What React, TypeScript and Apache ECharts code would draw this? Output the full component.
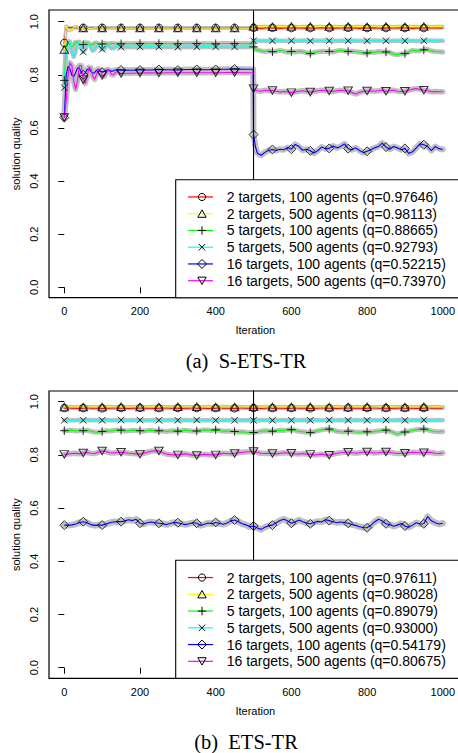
import React, { useEffect, useRef } from "react";
import * as echarts from "echarts";

const range = (a: number, b: number, s: number) => {
  const r: number[] = [];
  for (let v = a; v <= b + 1e-9; v += s) r.push(v);
  return r;
};

// ---------- (a) S-ETS-TR ----------
const ITER_A = [...range(0, 150, 5), ...range(175, 475, 25), 499, 500, 505, ...range(510, 1000, 10)];

const RED_A = [
  0.920, 0.978, 0.978, 0.977, 0.977, 0.977, 0.978, 0.977, 0.977, 0.977,
  0.977, 0.977, 0.977, 0.977, 0.977, 0.977, 0.977, 0.977, 0.977, 0.977,
  0.977, 0.977, 0.977, 0.977, 0.977, 0.977, 0.977, 0.977, 0.977, 0.977, 0.977,
  0.977, 0.977, 0.977, 0.977, 0.977, 0.977, 0.977, 0.977, 0.977, 0.977, 0.977, 0.977, 0.977,
  0.977, 0.977, 0.976,
  0.976, 0.975, 0.976, 0.976, 0.977, 0.976, 0.975, 0.976, 0.976, 0.976,
  0.977, 0.976, 0.976, 0.975, 0.976, 0.976, 0.976, 0.977, 0.976, 0.976,
  0.975, 0.976, 0.976, 0.976, 0.977, 0.976, 0.976, 0.975, 0.976, 0.976,
  0.976, 0.977, 0.976, 0.975, 0.976, 0.976, 0.976, 0.976, 0.977, 0.976,
  0.976, 0.975, 0.976, 0.976, 0.976, 0.977, 0.976, 0.976, 0.976, 0.976,
];
const YELLOW_A = [
  0.895, 0.984, 0.972, 0.967, 0.970, 0.978, 0.981, 0.979, 0.975, 0.974,
  0.976, 0.978, 0.978, 0.976, 0.975, 0.976, 0.977, 0.977, 0.976, 0.975,
  0.976, 0.977, 0.976, 0.976, 0.976, 0.976, 0.977, 0.976, 0.976, 0.976, 0.976,
  0.976, 0.976, 0.976, 0.976, 0.976, 0.976, 0.976, 0.976, 0.976, 0.976, 0.976, 0.976, 0.976,
  0.976, 0.982, 0.982,
  0.982, 0.981, 0.982, 0.982, 0.981, 0.982, 0.982, 0.982, 0.981, 0.982,
  0.982, 0.981, 0.982, 0.982, 0.982, 0.981, 0.982, 0.982, 0.981, 0.982,
  0.982, 0.982, 0.981, 0.982, 0.982, 0.981, 0.982, 0.982, 0.982, 0.981,
  0.982, 0.982, 0.981, 0.982, 0.982, 0.982, 0.981, 0.982, 0.982, 0.981,
  0.982, 0.982, 0.982, 0.981, 0.982, 0.982, 0.981, 0.982, 0.982, 0.982,
];
const GREEN_A = [
  0.779, 0.915, 0.923, 0.912, 0.905, 0.912, 0.923, 0.923, 0.915, 0.910,
  0.914, 0.921, 0.921, 0.916, 0.912, 0.914, 0.919, 0.920, 0.916, 0.914,
  0.916, 0.919, 0.918, 0.916, 0.916, 0.918, 0.918, 0.917, 0.916, 0.917, 0.917,
  0.917, 0.918, 0.917, 0.918, 0.917, 0.917, 0.918, 0.918, 0.917, 0.917, 0.918, 0.918, 0.917,
  0.917, 0.905, 0.897,
  0.893, 0.890, 0.888, 0.890, 0.887, 0.889, 0.892, 0.889, 0.885, 0.888,
  0.886, 0.889, 0.887, 0.883, 0.880, 0.884, 0.887, 0.889, 0.888, 0.888,
  0.886, 0.890, 0.892, 0.890, 0.888, 0.889, 0.887, 0.885, 0.883, 0.882,
  0.886, 0.884, 0.888, 0.886, 0.886, 0.884, 0.878, 0.875, 0.879, 0.880,
  0.886, 0.892, 0.890, 0.891, 0.894, 0.895, 0.890, 0.888, 0.887, 0.886,
];
const CYAN_A = [
  0.752, 0.880, 0.925, 0.925, 0.885, 0.868, 0.890, 0.918, 0.924, 0.900,
  0.886, 0.895, 0.915, 0.920, 0.905, 0.891, 0.895, 0.908, 0.914, 0.906,
  0.896, 0.897, 0.906, 0.910, 0.906, 0.900, 0.900, 0.905, 0.907, 0.905, 0.904,
  0.905, 0.905, 0.906, 0.905, 0.905, 0.904, 0.905, 0.905, 0.906, 0.905, 0.905, 0.905, 0.905,
  0.905, 0.928, 0.928,
  0.928, 0.928, 0.927, 0.928, 0.928, 0.929, 0.928, 0.928, 0.927, 0.928,
  0.928, 0.928, 0.929, 0.928, 0.927, 0.928, 0.928, 0.928, 0.929, 0.928,
  0.928, 0.927, 0.928, 0.928, 0.928, 0.929, 0.928, 0.928, 0.927, 0.928,
  0.928, 0.929, 0.928, 0.928, 0.928, 0.927, 0.928, 0.928, 0.929, 0.928,
  0.928, 0.928, 0.927, 0.928, 0.928, 0.928, 0.929, 0.928, 0.928, 0.928,
];
const BLUE_A = [
  0.639, 0.800, 0.832, 0.822, 0.798, 0.794, 0.808, 0.826, 0.825, 0.808,
  0.800, 0.806, 0.820, 0.822, 0.814, 0.806, 0.808, 0.817, 0.820, 0.815,
  0.810, 0.812, 0.817, 0.819, 0.816, 0.813, 0.815, 0.818, 0.818, 0.817, 0.818,
  0.817, 0.818, 0.818, 0.820, 0.819, 0.818, 0.820, 0.820, 0.819, 0.820, 0.821, 0.822, 0.821,
  0.821, 0.575, 0.530,
  0.505, 0.497, 0.508, 0.516, 0.519, 0.515, 0.520, 0.518, 0.526, 0.520,
  0.538, 0.530, 0.516, 0.520, 0.514, 0.505, 0.515, 0.528, 0.522, 0.523,
  0.532, 0.525, 0.530, 0.540, 0.522, 0.518, 0.525, 0.515, 0.507, 0.512,
  0.518, 0.525, 0.530, 0.543, 0.528, 0.520, 0.530, 0.525, 0.518, 0.523,
  0.504, 0.510, 0.525, 0.540, 0.537, 0.530, 0.515, 0.530, 0.522, 0.519,
];
const MAGENTA_A = [
  0.639, 0.700, 0.800, 0.845, 0.835, 0.775, 0.745, 0.780, 0.835, 0.835,
  0.782, 0.768, 0.790, 0.828, 0.826, 0.795, 0.783, 0.800, 0.822, 0.818,
  0.798, 0.794, 0.806, 0.817, 0.813, 0.801, 0.800, 0.808, 0.812, 0.808, 0.805,
  0.806, 0.807, 0.808, 0.807, 0.808, 0.808, 0.808, 0.808, 0.808, 0.808, 0.809, 0.809, 0.808,
  0.808, 0.748, 0.742,
  0.740, 0.738, 0.742, 0.740, 0.741, 0.738, 0.735, 0.737, 0.736, 0.733,
  0.735, 0.738, 0.740, 0.737, 0.735, 0.737, 0.740, 0.742, 0.740, 0.739,
  0.737, 0.740, 0.742, 0.740, 0.740, 0.733, 0.728, 0.734, 0.738, 0.739,
  0.740, 0.738, 0.740, 0.742, 0.738, 0.740, 0.742, 0.738, 0.737, 0.738,
  0.742, 0.746, 0.748, 0.745, 0.742, 0.740, 0.736, 0.737, 0.736, 0.736,
];
const Q_A = ["0.97646", "0.98113", "0.88665", "0.92793", "0.52215", "0.73970"];

// ---------- (b) ETS-TR ----------
const ITER_B = range(0, 1000, 10);

const RED_B = [
  0.976, 0.977, 0.976, 0.976, 0.975, 0.976, 0.977, 0.976, 0.976, 0.976,
  0.975, 0.976, 0.976, 0.977, 0.976, 0.976, 0.976, 0.975, 0.976, 0.976,
  0.977, 0.976, 0.976, 0.976, 0.975, 0.976, 0.976, 0.977, 0.976, 0.976,
  0.976, 0.975, 0.976, 0.976, 0.977, 0.976, 0.976, 0.976, 0.975, 0.976,
  0.976, 0.977, 0.976, 0.976, 0.976, 0.975, 0.976, 0.977, 0.976, 0.976,
  0.976, 0.976, 0.975, 0.976, 0.977, 0.976, 0.976, 0.976, 0.976, 0.975,
  0.976, 0.977, 0.976, 0.976, 0.976, 0.975, 0.976, 0.976, 0.977, 0.976,
  0.976, 0.976, 0.975, 0.976, 0.976, 0.977, 0.976, 0.976, 0.976, 0.975,
  0.976, 0.976, 0.977, 0.976, 0.976, 0.976, 0.975, 0.976, 0.976, 0.977,
  0.976, 0.976, 0.976, 0.975, 0.976, 0.976, 0.977, 0.976, 0.976, 0.976,
  0.976,
];
const YELLOW_B = [
  0.980, 0.981, 0.980, 0.980, 0.981, 0.980, 0.980, 0.980, 0.981, 0.980,
  0.980, 0.980, 0.981, 0.980, 0.980, 0.981, 0.980, 0.980, 0.980, 0.981,
  0.980, 0.980, 0.980, 0.981, 0.980, 0.980, 0.981, 0.980, 0.980, 0.980,
  0.981, 0.980, 0.980, 0.980, 0.980, 0.981, 0.980, 0.980, 0.981, 0.980,
  0.980, 0.980, 0.981, 0.980, 0.980, 0.980, 0.981, 0.980, 0.980, 0.980,
  0.981, 0.980, 0.980, 0.981, 0.980, 0.980, 0.980, 0.980, 0.981, 0.980,
  0.980, 0.981, 0.980, 0.980, 0.980, 0.981, 0.980, 0.980, 0.980, 0.981,
  0.980, 0.980, 0.981, 0.980, 0.980, 0.980, 0.980, 0.981, 0.980, 0.980,
  0.981, 0.980, 0.980, 0.980, 0.981, 0.980, 0.980, 0.981, 0.980, 0.980,
  0.980, 0.981, 0.980, 0.980, 0.980, 0.981, 0.980, 0.980, 0.981, 0.980,
  0.980,
];
const GREEN_B = [
  0.891, 0.892, 0.893, 0.890, 0.892, 0.891, 0.893, 0.889, 0.886, 0.885,
  0.888, 0.891, 0.890, 0.892, 0.894, 0.893, 0.890, 0.891, 0.893, 0.892,
  0.891, 0.889, 0.892, 0.893, 0.890, 0.891, 0.890, 0.888, 0.890, 0.891,
  0.889, 0.891, 0.893, 0.891, 0.889, 0.890, 0.892, 0.894, 0.893, 0.892,
  0.894, 0.892, 0.889, 0.890, 0.889, 0.888, 0.886, 0.887, 0.885, 0.884,
  0.884, 0.886, 0.889, 0.891, 0.890, 0.889, 0.891, 0.893, 0.892, 0.894,
  0.895, 0.892, 0.889, 0.887, 0.885, 0.884, 0.887, 0.891, 0.894, 0.896,
  0.897, 0.893, 0.889, 0.887, 0.886, 0.889, 0.888, 0.886, 0.885, 0.886,
  0.887, 0.886, 0.888, 0.890, 0.892, 0.893, 0.889, 0.884, 0.878, 0.883,
  0.886, 0.889, 0.892, 0.895, 0.896, 0.897, 0.894, 0.890, 0.888, 0.887,
  0.888,
];
const CYAN_B = [
  0.930, 0.931, 0.930, 0.930, 0.931, 0.930, 0.930, 0.931, 0.930, 0.930,
  0.930, 0.931, 0.930, 0.930, 0.930, 0.931, 0.930, 0.930, 0.931, 0.930,
  0.931, 0.930, 0.930, 0.930, 0.931, 0.930, 0.930, 0.930, 0.931, 0.930,
  0.930, 0.930, 0.931, 0.930, 0.930, 0.931, 0.930, 0.930, 0.930, 0.931,
  0.930, 0.931, 0.930, 0.930, 0.930, 0.930, 0.931, 0.930, 0.930, 0.931,
  0.930, 0.930, 0.931, 0.930, 0.930, 0.930, 0.931, 0.930, 0.931, 0.930,
  0.930, 0.930, 0.930, 0.931, 0.930, 0.930, 0.931, 0.930, 0.930, 0.930,
  0.931, 0.930, 0.930, 0.931, 0.930, 0.930, 0.930, 0.931, 0.930, 0.930,
  0.930, 0.931, 0.930, 0.930, 0.930, 0.931, 0.930, 0.930, 0.931, 0.930,
  0.930, 0.930, 0.931, 0.930, 0.930, 0.931, 0.930, 0.930, 0.930, 0.931,
  0.930,
];
const BLUE_B = [
  0.536, 0.535, 0.537, 0.540, 0.546, 0.549, 0.545, 0.538, 0.535, 0.536,
  0.536, 0.540, 0.545, 0.548, 0.549, 0.549, 0.552, 0.556, 0.553, 0.558,
  0.543, 0.540, 0.546, 0.548, 0.545, 0.543, 0.541, 0.538, 0.542, 0.546,
  0.545, 0.541, 0.538, 0.541, 0.545, 0.543, 0.535, 0.539, 0.544, 0.541,
  0.546, 0.542, 0.539, 0.544, 0.552, 0.555, 0.549, 0.541, 0.537, 0.530,
  0.533, 0.525, 0.520, 0.528, 0.534, 0.536, 0.545, 0.553, 0.558, 0.552,
  0.543, 0.548, 0.555, 0.549, 0.544, 0.541, 0.546, 0.550, 0.548, 0.556,
  0.553, 0.549, 0.545, 0.548, 0.546, 0.543, 0.538, 0.535, 0.530, 0.527,
  0.526, 0.535, 0.548, 0.558, 0.552, 0.541, 0.538, 0.532, 0.536, 0.542,
  0.533, 0.528, 0.536, 0.545, 0.540, 0.541, 0.568, 0.552, 0.545, 0.540,
  0.543,
];
const MAGENTA_B = [
  0.802, 0.803, 0.805, 0.806, 0.804, 0.807, 0.809, 0.806, 0.805, 0.810,
  0.815, 0.812, 0.808, 0.807, 0.809, 0.810, 0.808, 0.806, 0.805, 0.804,
  0.803, 0.806, 0.810, 0.814, 0.815, 0.815, 0.808, 0.803, 0.801, 0.800,
  0.800, 0.802, 0.804, 0.801, 0.799, 0.798, 0.800, 0.802, 0.801, 0.800,
  0.800, 0.803, 0.806, 0.805, 0.804, 0.805, 0.808, 0.810, 0.811, 0.812,
  0.813, 0.810, 0.806, 0.805, 0.806, 0.805, 0.804, 0.806, 0.808, 0.807,
  0.806, 0.804, 0.803, 0.805, 0.803, 0.802, 0.800, 0.801, 0.803, 0.800,
  0.799, 0.802, 0.806, 0.808, 0.810, 0.810, 0.808, 0.806, 0.808, 0.810,
  0.811, 0.809, 0.807, 0.808, 0.810, 0.811, 0.810, 0.807, 0.805, 0.806,
  0.806, 0.808, 0.810, 0.809, 0.808, 0.808, 0.810, 0.809, 0.806, 0.805,
  0.807,
];
const Q_B = ["0.97611", "0.98028", "0.89079", "0.93000", "0.54179", "0.80675"];

const NAMES = [
  "2 targets, 100 agents",
  "2 targets, 500 agents",
  "5 targets, 100 agents",
  "5 targets, 500 agents",
  "16 targets, 100 agents",
  "16 targets, 500 agents",
];
const X_TICKS = { min: 0, max: 1000, interval: 200 };
const Y_TICKS = { min: 0, max: 1, interval: 0.2 };
const SWITCH_ITER = 500;
const MARKER_EVERY = 50;
const Y_BOX = [-0.04, 1.042];

// ---------- styles ----------
const COLORS = ["#ff0000", "#ffff00", "#00ff00", "#00ffff", "#0000ff", "#ff00ff"];
const BAND = "#c0c0c0";
const BAND_W_A = [3.5, 3.5, 5, 4.5, 6, 5.5];
const BAND_W_B = [4, 4, 5, 4.5, 6.5, 5.5];
const SYMBOLS = [
  "circle",
  "triangle",
  "path://M5,0L5,10M0,5L10,5",
  "path://M0,0L10,10M10,0L0,10",
  "diamond",
  "path://M0,0L10,0L5,8.66Z",
];
const SYM_SIZE: any[] = [7.5, [8.5, 7.5], 8.5, 6.5, 9, [8.5, 7.5]];
const SANS = '"Liberation Sans", Arial, Helvetica, sans-serif';
const SERIF = '"Liberation Serif", "Times New Roman", serif';

const PANELS = [
  { iters: ITER_A, vals: [RED_A, YELLOW_A, GREEN_A, CYAN_A, BLUE_A, MAGENTA_A], q: Q_A, bw: BAND_W_A,
    gridTop: 21.7, gridH: 265.6, boxTop: 10, boxBottom: 297.7, caption: "(a)  S-ETS-TR", capY: 361 },
  { iters: ITER_B, vals: [RED_B, YELLOW_B, GREEN_B, CYAN_B, BLUE_B, MAGENTA_B], q: Q_B, bw: BAND_W_B,
    gridTop: 401.7, gridH: 266, boxTop: 391, boxBottom: 678.3, caption: "(b)  ETS-TR", capY: 741.5 },
];

const GRID_LEFT = 64.3;
const GRID_W = 382.4;
const BOX_LEFT = 49;

function legendMarker(k: number, cx: number, cy: number): any {
  const st = { fill: "none", stroke: "#000", lineWidth: 1 };
  switch (k) {
    case 0:
      return { type: "circle", shape: { cx, cy, r: 3.6 }, style: st, z: 102 };
    case 1:
      return { type: "polygon", shape: { points: [[cx - 4.2, cy + 3.6], [cx + 4.2, cy + 3.6], [cx, cy - 3.8]] }, style: st, z: 102 };
    case 2:
      return { type: "group", children: [
        { type: "line", shape: { x1: cx - 4.2, y1: cy, x2: cx + 4.2, y2: cy }, style: st, z: 102 },
        { type: "line", shape: { x1: cx, y1: cy - 4.2, x2: cx, y2: cy + 4.2 }, style: st, z: 102 },
      ] };
    case 3:
      return { type: "group", children: [
        { type: "line", shape: { x1: cx - 3.2, y1: cy - 3.2, x2: cx + 3.2, y2: cy + 3.2 }, style: st, z: 102 },
        { type: "line", shape: { x1: cx - 3.2, y1: cy + 3.2, x2: cx + 3.2, y2: cy - 3.2 }, style: st, z: 102 },
      ] };
    case 4:
      return { type: "polygon", shape: { points: [[cx, cy - 4.5], [cx + 4.5, cy], [cx, cy + 4.5], [cx - 4.5, cy]] }, style: st, z: 102 };
    default:
      return { type: "polygon", shape: { points: [[cx - 4.2, cy - 3.6], [cx + 4.2, cy - 3.6], [cx, cy + 3.8]] }, style: st, z: 102 };
  }
}

export default function App() {
  const ref = useRef<HTMLDivElement>(null);
  useEffect(() => {
    if (!ref.current) return;
    const chart = echarts.init(ref.current, undefined, { renderer: "svg" });
    const grids: any[] = [];
    const xAxes: any[] = [];
    const yAxes: any[] = [];
    const series: any[] = [];
    const graphic: any[] = [];

    PANELS.forEach((p, pi) => {
      grids.push({ left: GRID_LEFT, top: p.gridTop, width: GRID_W, height: p.gridH, containLabel: false });
      xAxes.push({
        type: "value", gridIndex: pi, ...X_TICKS,
        offset: p.boxBottom - (p.gridTop + p.gridH),
        axisLine: { show: false },
        axisTick: { show: true, length: 6, lineStyle: { color: "#000", width: 1 } },
        axisLabel: { color: "#000", fontSize: 11, fontFamily: SANS, margin: 8, showMaxLabel: true,
          formatter: (v: number) => String(v) },
        splitLine: { show: false },
      });
      yAxes.push({
        type: "value", gridIndex: pi, ...Y_TICKS,
        offset: GRID_LEFT - BOX_LEFT,
        axisLine: { show: false },
        axisTick: { show: true, length: 6, lineStyle: { color: "#000", width: 1 } },
        axisLabel: { color: "#000", fontSize: 11, fontFamily: SANS, rotate: 90, margin: 10, formatter: (v: number) => v.toFixed(1) },
        splitLine: { show: false },
      });
      // grey bands
      p.vals.forEach((vals, k) => {
        series.push({
          type: "line", xAxisIndex: pi, yAxisIndex: pi, silent: true, symbol: "none", showSymbol: false,
          data: p.iters.map((it, i) => [it, vals[i]]),
          lineStyle: { color: BAND, width: p.bw[k], cap: "round", join: "round" }, z: 2,
        });
      });
      // coloured lines
      p.vals.forEach((vals, k) => {
        series.push({
          type: "line", xAxisIndex: pi, yAxisIndex: pi, silent: true, symbol: "none", showSymbol: false,
          name: NAMES[k],
          data: p.iters.map((it, i) => [it, vals[i]]),
          lineStyle: { color: COLORS[k], width: 1.1 }, z: 3,
        });
      });
      // markers
      p.vals.forEach((vals, k) => {
        const pts: number[][] = [];
        p.iters.forEach((it, i) => {
          if (it % MARKER_EVERY === 0 && it < X_TICKS.max) pts.push([it, vals[i]]);
        });
        series.push({
          type: "scatter", xAxisIndex: pi, yAxisIndex: pi, silent: true,
          symbol: SYMBOLS[k], symbolSize: SYM_SIZE[k],
          data: pts,
          itemStyle: { color: "rgba(0,0,0,0)", borderColor: "#000", borderWidth: 1 }, z: 4,
        });
      });
      // vertical line at the switch iteration
      series.push({
        type: "line", xAxisIndex: pi, yAxisIndex: pi, silent: true, symbol: "none", showSymbol: false, clip: false,
        data: [[SWITCH_ITER, Y_BOX[0]], [SWITCH_ITER, Y_BOX[1]]],
        lineStyle: { color: "#000", width: 1.1 }, z: 5,
      });

      // plot box
      graphic.push({
        type: "rect", z: 50, silent: true,
        shape: { x: BOX_LEFT, y: p.boxTop, width: 430, height: p.boxBottom - p.boxTop },
        style: { fill: "none", stroke: "#000", lineWidth: 1.2 },
      });
      // legend
      const lgTop = p.boxBottom - 118;
      const lgChildren: any[] = [
        { type: "rect", z: 100, shape: { x: 175.7, y: lgTop, width: 300, height: 118 },
          style: { fill: "#fff", stroke: "#000", lineWidth: 1.1 } },
      ];
      NAMES.forEach((nm, k) => {
        const cy = p.boxBottom - 17 - (5 - k) * 16.75;
        lgChildren.push({ type: "line", z: 101, shape: { x1: 188, y1: cy, x2: 213, y2: cy },
          style: { stroke: COLORS[k], lineWidth: 1.2 } });
        lgChildren.push(legendMarker(k, 202, cy));
        lgChildren.push({ type: "text", z: 101, x: 226.7, y: cy,
          style: { text: `${nm} (q=${p.q[k]})`, fill: "#000", fontSize: 14, fontFamily: SANS, align: "left", verticalAlign: "middle" } });
      });
      graphic.push({ type: "group", children: lgChildren });
      // axis titles
      graphic.push({ type: "text", z: 60, x: 255.3, y: p.boxBottom + 32.3,
        style: { text: "Iteration", fill: "#000", fontSize: 11, fontFamily: SANS, align: "center", verticalAlign: "middle" } });
      graphic.push({ type: "text", z: 60, x: 16, y: (p.boxTop + p.boxBottom) / 2, rotation: Math.PI / 2,
        style: { text: "solution quality", fill: "#000", fontSize: 11, fontFamily: SANS, align: "center", verticalAlign: "middle" } });
      // caption
      graphic.push({ type: "text", z: 60, x: 246, y: p.capY,
        style: { text: p.caption, fill: "#000", fontSize: 20.5, fontFamily: SERIF, align: "center", verticalAlign: "middle" } });
    });

    chart.setOption({
      animation: false,
      backgroundColor: "#fff",
      grid: grids,
      xAxis: xAxes,
      yAxis: yAxes,
      series,
      graphic,
    });
    return () => chart.dispose();
  }, []);
  return (
    <div
      ref={ref}
      style={{ position: "absolute", left: 0, top: 0, width: 458, height: 753, background: "#fff" }}
    />
  );
}
